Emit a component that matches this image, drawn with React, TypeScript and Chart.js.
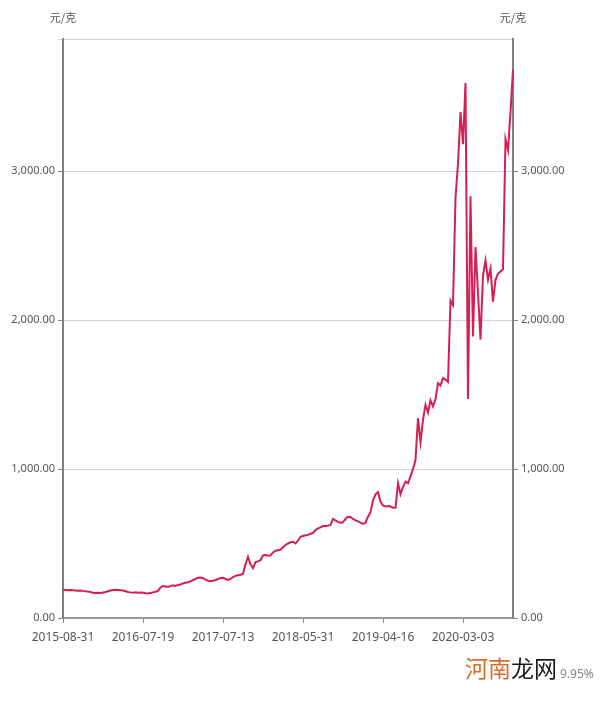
import React, { useEffect, useRef } from "react";
import { Chart, registerables } from "chart.js";

Chart.register(...registerables);

const tickLabels = ["2015-08-31", "2016-07-19", "2017-07-13", "2018-05-31", "2019-04-16", "2020-03-03"];
const tickEvery = 32;

const prices = [
  190, 188, 186, 188, 187, 184, 183, 185, 182, 180,
  177, 174, 170, 168, 170, 168, 171, 175, 180, 184,
  188, 189, 188, 187, 185, 180, 175, 172, 170, 172,
  170, 171, 169, 166, 164, 168, 172, 176, 182, 205,
  215, 212, 208, 214, 220, 215, 222, 225, 232, 236,
  240, 246, 255, 263, 270, 271, 267, 258, 250, 247,
  250, 255, 262, 268, 270, 262, 255, 262, 275, 283,
  287, 290, 295, 360, 410, 360, 335, 375, 380, 388,
  420, 422, 418, 420, 440, 452, 455, 458, 475, 490,
  500, 508, 512, 500, 520, 545, 550, 555, 558, 565,
  570, 590, 602, 608, 617, 618, 620, 625, 665, 655,
  645, 640, 642, 665, 680, 678, 665, 655, 648, 640,
  632, 640, 680, 710, 790, 830, 845, 780, 755, 748,
  752, 748, 740, 740, 905, 830, 880, 915, 905, 950,
  1000, 1060, 1340, 1180, 1330, 1430, 1380, 1460, 1420, 1470,
  1575, 1560, 1610, 1600, 1585, 2130, 2100, 2820, 3050, 3395,
  3180, 3590, 1470, 2830, 1890, 2490, 2180, 1870, 2300, 2400,
  2270, 2345, 2123, 2270, 2310, 2325, 2340, 3215, 3140, 3395,
  3680,
];

const yTicks = [0, 1000, 2000, 3000];
const yMax = 3886;
const unitLabel = "元/克";

const categories = prices.map((_, i) => (i % tickEvery === 0 ? tickLabels[i / tickEvery] || "" : ""));

const fmt = (v: number) =>
  v.toLocaleString("en-US", { minimumFractionDigits: 2, maximumFractionDigits: 2 });

const unitPlugin = {
  id: "unitLabels",
  afterDraw(chart: any) {
    const { ctx, chartArea } = chart;
    ctx.save();
    ctx.font = '11px "Noto Sans CJK SC", "Noto Sans"';
    ctx.fillStyle = "#555";
    ctx.textAlign = "center";
    ctx.textBaseline = "middle";
    ctx.fillText(unitLabel, chartArea.left, 18);
    ctx.fillText(unitLabel, chartArea.right, 18);
    ctx.restore();
  },
};

export default function App() {
  const ref = useRef<HTMLCanvasElement>(null);

  useEffect(() => {
    if (!ref.current) return;
    const buildTicks = (scale: any) => {
      scale.ticks = [...yTicks, yMax].map((v) => ({ value: v }));
    };
    const tickFont = { family: '"Noto Sans", sans-serif', size: 11 };
    const chart = new Chart(ref.current, {
      type: "line",
      data: {
        labels: categories,
        datasets: [
          {
            data: prices,
            borderColor: "#d61e52",
            borderWidth: 2,
            pointRadius: 0,
            tension: 0,
            fill: false,
            yAxisID: "y",
          },
        ],
      },
      options: {
        responsive: false,
        animation: false,
        devicePixelRatio: 1,
        layout: { padding: { top: 39, left: 0, right: 0, bottom: 0 } },
        plugins: { legend: { display: false }, tooltip: { enabled: false } },
        scales: {
          x: {
            type: "category",
            offset: false,
            afterFit: (s: any) => {
              s.height = 86;
            },
            afterBuildTicks: (s: any) => {
              s.ticks = s.ticks.filter((t: any) => t.value % tickEvery === 0);
            },
            grid: {
              drawOnChartArea: false,
              drawTicks: true,
              tickLength: 5,
              tickColor: "#888",
            },
            border: { color: "#999", width: 2 },
            ticks: {
              autoSkip: false,
              maxRotation: 0,
              minRotation: 0,
              padding: 7,
              color: "#555",
              font: { family: '"Noto Sans", sans-serif', size: 12 },
            },
          },
          y: {
            position: "left",
            min: 0,
            max: yMax,
            afterFit: (s: any) => {
              s.width = 63;
            },
            afterBuildTicks: buildTicks,
            grid: {
              color: (c: any) => (c.tick && c.tick.value === 0 ? "rgba(0,0,0,0)" : "#d4d4d4"),
              tickColor: (c: any) => (c.tick && c.tick.value === yMax ? "#d4d4d4" : "#888"),
              tickLength: 5,
            },
            border: { color: "#808080", width: 2 },
            ticks: {
              padding: 3,
              color: "#555",
              font: tickFont,
              callback: (v: any) => (v === yMax ? "" : fmt(Number(v))),
            },
          },
          y2: {
            position: "right",
            min: 0,
            max: yMax,
            afterFit: (s: any) => {
              s.width = 87;
            },
            afterBuildTicks: buildTicks,
            grid: {
              drawOnChartArea: false,
              tickColor: (c: any) => (c.tick && c.tick.value === yMax ? "rgba(0,0,0,0)" : "#888"),
              tickLength: 5,
            },
            border: { color: "#808080", width: 2 },
            ticks: {
              padding: 3,
              color: "#555",
              font: tickFont,
              callback: (v: any) => (v === yMax ? "" : fmt(Number(v))),
            },
          },
        },
      },
      plugins: [unitPlugin],
    });
    return () => chart.destroy();
  }, []);

  return (
    <div style={{ position: "absolute", left: 0, top: 0, width: 600, height: 704, background: "#fff" }}>
      <canvas ref={ref} width={600} height={704} style={{ width: 600, height: 704, display: "block" }} />
      <div
        style={{
          position: "absolute",
          left: 465,
          top: 652,
          fontFamily: '"Noto Sans CJK SC", sans-serif',
          fontSize: 23,
          lineHeight: "30px",
          whiteSpace: "nowrap",
        }}
      >
        <span style={{ color: "#dc6a2c" }}>河南</span>
        <span style={{ color: "#1a1a1a" }}>龙网</span>
      </div>
      <div
        style={{
          position: "absolute",
          left: 560,
          top: 665,
          fontFamily: '"Noto Sans", sans-serif',
          fontSize: 12,
          color: "#888",
          whiteSpace: "nowrap",
        }}
      >
        9.95%
      </div>
    </div>
  );
}
